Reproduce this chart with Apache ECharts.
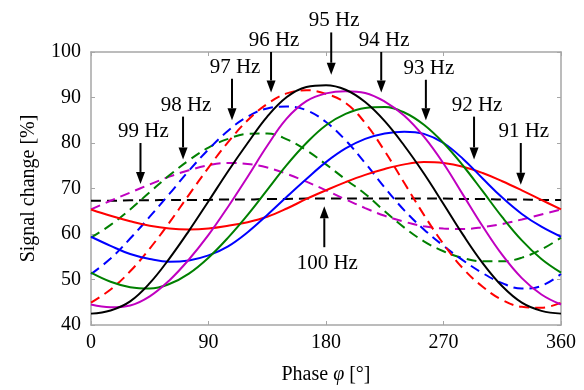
<!DOCTYPE html>
<html><head><meta charset="utf-8">
<script src="https://cdn.jsdelivr.net/npm/echarts@6/dist/echarts.min.js"></script>
<style>html,body{margin:0;padding:0;background:#fff}#c{width:584px;height:390px}</style>
</head><body><div id="c"></div>
<script>
// Phase samples (degrees)
const phase = [0,15,30,45,60,75,90,105,120,135,150,165,180,195,210,225,240,255,270,285,300,315,330,345,360];

// Signal change [%]
const f91 = [65.4,64.0,62.8,61.8,61.2,61.0,61.2,61.8,62.6,63.8,65.6,67.7,69.6,71.4,73.0,74.3,75.3,75.8,75.6,74.8,73.4,71.6,69.6,67.5,65.4];
const f92 = [59.4,57.4,55.6,54.5,53.9,54.2,55.3,57.3,60.4,64.2,68.2,72.1,75.8,78.8,80.9,82.1,82.5,82.0,80.0,76.5,72.2,68.0,64.4,61.6,59.4];
const f93 = [51.5,49.5,48.3,48.0,49.0,51.3,54.8,59.2,64.2,69.7,75.2,80.0,83.9,86.4,87.7,87.9,86.7,84.0,80.0,75.0,69.4,63.7,58.6,54.5,51.5];
const f94 = [44.5,43.9,44.3,46.3,49.8,54.4,59.8,66.0,72.6,79.4,85.4,89.2,90.9,91.4,91.0,89.1,86.0,81.4,75.5,68.6,61.7,55.4,50.3,46.7,44.5];
const f95 = [42.5,43.2,45.2,49.2,54.6,60.7,67.2,73.8,80.0,85.8,90.1,92.3,92.7,91.7,89.0,84.8,79.4,73.3,66.6,59.8,53.6,48.5,44.9,43.1,42.5];
const f96 = [44.9,47.8,51.8,56.8,62.5,68.6,74.6,80.2,85.0,88.6,90.9,91.6,90.8,88.8,84.4,78.2,71.2,64.2,57.8,52.4,48.4,45.5,44.0,43.8,44.9];
const f97 = [51.2,54.6,59.0,63.8,68.8,73.9,78.6,82.7,85.8,87.6,88.0,87.2,84.6,80.6,75.6,70.2,65.2,61.0,57.4,54.2,51.4,49.2,48.0,48.6,51.2];
const f98 = [59.2,62.0,65.4,69.2,72.9,76.2,79.0,80.9,82.0,82.1,80.8,78.4,75.3,72.0,68.8,65.0,61.4,58.4,56.2,54.7,54.0,54.0,54.8,56.6,59.2];
const f99 = [65.4,67.3,69.1,70.9,72.6,74.0,75.1,75.6,75.4,74.6,73.2,71.5,69.6,67.6,65.7,64.0,62.7,61.7,61.2,61.1,61.5,62.2,63.2,64.3,65.4];
const f100 = [67.3,67.3,67.4,67.4,67.5,67.5,67.5,67.6,67.6,67.7,67.7,67.8,67.8,67.8,67.8,67.8,67.8,67.8,67.8,67.7,67.7,67.6,67.6,67.5,67.5];

// Axis ticks
const xTicks = [0,90,180,270,360];
const yTicks = [40,50,60,70,80,90,100];

// Annotations (data coordinates): label, arrow x, arrow start y, arrow tip y
const annoLabels = ['99 Hz','98 Hz','97 Hz','96 Hz','95 Hz','94 Hz','93 Hz','92 Hz','91 Hz','100 Hz'];
const annoX     = [37.9, 70.5, 108.0, 137.9, 184.0, 222.3, 256.5, 293.4, 329.2, 178.7];
const annoFrom  = [80.0, 85.8, 94.1, 100.0, 104.3, 100.0, 93.9, 85.8, 80.0, 57.1];
const annoTo    = [71.0, 76.4, 85.0, 91.1, 95.0, 91.1, 85.0, 76.4, 70.8, 66.1];

const FONT = '"Liberation Serif","Times New Roman",serif';
const GRAY = '#a6a6a6';
const chart = echarts.init(document.getElementById('c'), null, {renderer:'canvas'});

function pairs(ys){ return phase.map((p,i)=>[p, ys[i]]); }
const defs = [
  {d:f100, c:'#000000', dash:true},
  {d:f99, c:'#c000c0', dash:true},
  {d:f98, c:'#008000', dash:true},
  {d:f97, c:'#0000ff', dash:true},
  {d:f96, c:'#ff0000', dash:true},
  {d:f91, c:'#ff0000', dash:false},
  {d:f92, c:'#0000ff', dash:false},
  {d:f93, c:'#008000', dash:false},
  {d:f94, c:'#c000c0', dash:false},
  {d:f95, c:'#000000', dash:false}
];
const series = defs.map(s=>({
  type:'line', data:pairs(s.d), showSymbol:false, symbol:'none', smooth:0.4,
  lineStyle:{color:s.c, width:2, type: s.dash ? [10,6] : 'solid'},
  silent:true, z:3
}));

const axisCommon = {
  axisLine:{show:true, onZero:false, lineStyle:{color:GRAY, width:1.5}},
  axisTick:{show:true, inside:true, length:4, lineStyle:{color:GRAY, width:1}},
  splitLine:{show:false}
};

chart.setOption({
  animation:false,
  grid:{left:91, right:23, top:52, bottom:58},
  xAxis:[
    Object.assign({type:'value', min:0, max:360, interval:90,
      axisLabel:{color:'#000', fontFamily:FONT, fontSize:20, margin:8,
        formatter:v=> xTicks.includes(v) ? String(v) : ''},
      name:'{a|Phase }{i|φ}{a| [°]}', nameLocation:'middle', nameGap:40,
      nameTextStyle:{rich:{a:{fontFamily:FONT,fontSize:20,color:'#000'}, i:{fontFamily:FONT,fontSize:20,fontStyle:'italic',color:'#000'}}}
    }, axisCommon),
    Object.assign({type:'value', position:'top', min:0, max:360, interval:90, axisLabel:{show:false}}, axisCommon)
  ],
  yAxis:[
    Object.assign({type:'value', min:40, max:100, interval:10,
      axisLabel:{color:'#000', fontFamily:FONT, fontSize:20, margin:10,
        formatter:v=> yTicks.includes(v) ? String(v) : ''},
      name:'Signal change [%]', nameLocation:'middle', nameGap:52,
      nameTextStyle:{fontFamily:FONT, fontSize:20, color:'#000'}
    }, axisCommon),
    Object.assign({type:'value', position:'right', min:40, max:100, interval:10, axisLabel:{show:false}}, axisCommon)
  ],
  series:series
});

// Arrows and labels
const els = [];
for (let i=0;i<annoLabels.length;i++){
  const a = chart.convertToPixel({gridIndex:0}, [annoX[i], annoFrom[i]]);
  const b = chart.convertToPixel({gridIndex:0}, [annoX[i], annoTo[i]]);
  const dir = b[1] > a[1] ? 1 : -1;
  const head = 12, hw = 4.5;
  els.push({type:'line', shape:{x1:a[0], y1:a[1], x2:b[0], y2:b[1]-dir*head}, style:{stroke:'#000', lineWidth:2}, z:10});
  els.push({type:'polygon', shape:{points:[[b[0],b[1]],[b[0]-hw,b[1]-dir*head],[b[0]+hw,b[1]-dir*head]]}, style:{fill:'#000'}, z:10});
  els.push({type:'text', x:a[0]+3, y: dir>0 ? a[1]-1 : a[1]+6,
    style:{text:annoLabels[i], fontFamily:FONT, fontSize:21, fill:'#000', align:'center', verticalAlign: dir>0 ? 'bottom' : 'top'}, z:10});
}
chart.setOption({graphic:{elements:els}});
</script>
</body></html>
